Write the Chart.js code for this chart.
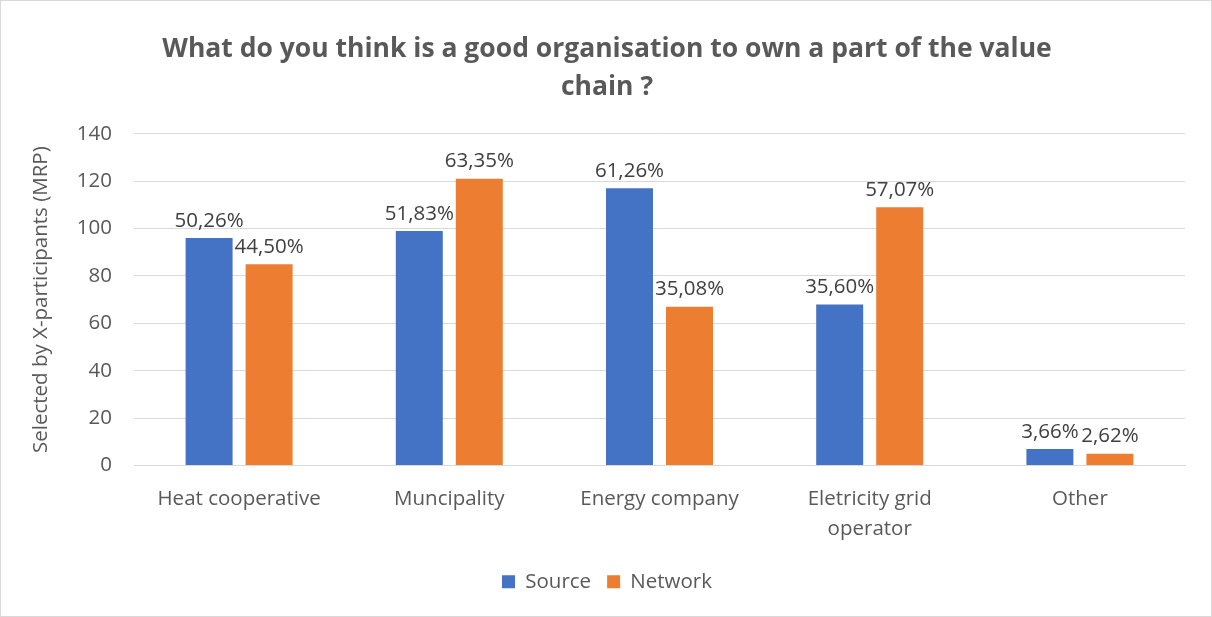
<!DOCTYPE html>
<html>
<head>
<meta charset="utf-8">
<script src="https://cdn.jsdelivr.net/npm/chart.js@4.4.1/dist/chart.umd.min.js"></script>
<style>
  html, body { margin: 0; padding: 0; background: #fff; }
  #wrap { position: relative; width: 1212px; height: 617px; box-sizing: border-box; border: 1px solid #d9d9d9; }
  canvas { display: block; }
</style>
</head>
<body>
<div id="wrap"><canvas id="c" width="1210" height="615"></canvas></div>
<script>
// Organisations asked about
const categories = ['Heat cooperative', 'Muncipality', 'Energy company', ['Eletricity grid', 'operator'], 'Other'];
// Number of participants selecting each organisation
const sourceValues = [96, 99, 117, 68, 7];
const networkValues = [85, 121, 67, 109, 5];
// Total respondents, used for the percentage labels
const totalRespondents = 191;
const yTicks = [0, 20, 40, 60, 80, 100, 120, 140];

const FONT = "'Open Sans', 'Liberation Sans', sans-serif";
const TXT = '#595959';
const SIZE = 20.5;

function pct(v) {
  return (v / totalRespondents * 100).toFixed(2).replace('.', ',') + '%';
}

const valueLabels = {
  id: 'valueLabels',
  afterDatasetsDraw(chart) {
    const ctx = chart.ctx;
    ctx.save();
    ctx.font = SIZE + "px " + FONT;
    ctx.fillStyle = '#404040';
    ctx.textAlign = 'center';
    ctx.textBaseline = 'bottom';
    chart.data.datasets.forEach((ds, di) => {
      chart.getDatasetMeta(di).data.forEach((bar, i) => {
        ctx.fillText(pct(ds.data[i]), bar.x, bar.y - 7);
      });
    });
    ctx.restore();
  }
};

new Chart(document.getElementById('c'), {
  type: 'bar',
  data: {
    labels: categories,
    datasets: [
      { label: 'Source', data: sourceValues, backgroundColor: '#4472c4', categoryPercentage: 0.571, barPercentage: 0.783 },
      { label: 'Network', data: networkValues, backgroundColor: '#ed7d31', categoryPercentage: 0.571, barPercentage: 0.783 }
    ]
  },
  options: {
    responsive: false,
    animation: false,
    layout: { padding: { left: 28, right: 26, top: 0, bottom: 14 } },
    plugins: {
      title: {
        display: true,
        text: ['What do you think is a good organisation to own a part of the value', 'chain ?'],
        color: TXT,
        font: { family: FONT, size: 26.5, weight: 'bold', lineHeight: 1.45 },
        padding: { top: 29, bottom: 27 }
      },
      legend: {
        position: 'bottom',
        labels: {
          color: TXT,
          font: { family: FONT, size: SIZE },
          boxWidth: 13, boxHeight: 13, padding: 16
        }
      },
      tooltip: { enabled: false }
    },
    scales: {
      x: {
        grid: { display: false },
        border: { color: '#d9d9d9' },
        afterFit(axis) { axis.height = 90; },
        ticks: { color: TXT, font: { family: FONT, size: SIZE, lineHeight: 1.45 }, maxRotation: 0, padding: 11 }
      },
      y: {
        min: 0, max: 140,
        afterBuildTicks(axis) { axis.ticks = yTicks.map(v => ({ value: v })); },
        afterFit(axis) { axis.width = 105; },
        grid: { color: '#d9d9d9', drawTicks: false },
        border: { display: false },
        ticks: { color: TXT, font: { family: FONT, size: SIZE }, padding: 22 },
        title: {
          display: true,
          text: 'Selected by X-participants (MRP)',
          color: TXT,
          font: { family: FONT, size: SIZE },
          padding: { top: 0, bottom: 8 }
        }
      }
    }
  },
  plugins: [valueLabels]
});
</script>
</body>
</html>
